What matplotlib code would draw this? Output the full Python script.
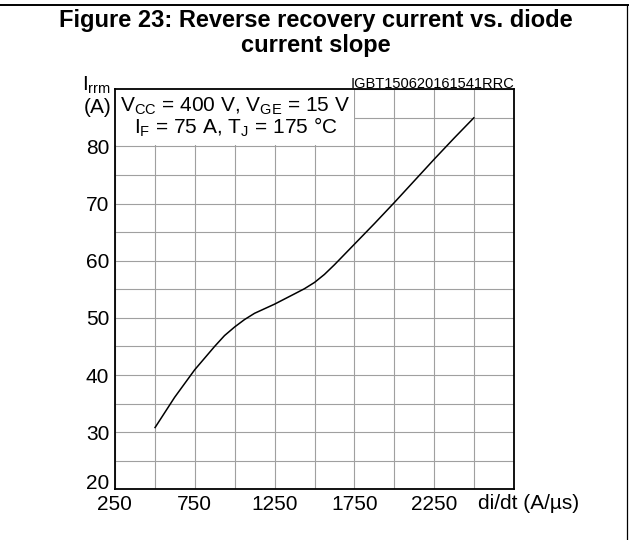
import matplotlib

matplotlib.use("Agg")

import matplotlib.pyplot as plt
from matplotlib.patches import Rectangle
from matplotlib.lines import Line2D

plt.rcParams["font.family"] = ["Liberation Sans", "DejaVu Sans"]
plt.rcParams["mathtext.fontset"] = "custom"
plt.rcParams["mathtext.rm"] = "Liberation Sans"
plt.rcParams["mathtext.it"] = "Liberation Sans"

# curve
didt = [500, 625, 750, 875, 937, 1000, 1062, 1125, 1250, 1375, 1437, 1500, 1562,
        1625, 1750, 1875, 2000, 2125, 2250, 2375, 2500]
irrm = [30.7, 36.1, 40.9, 45.0, 46.9, 48.4, 49.7, 50.8, 52.4, 54.2, 55.1, 56.2, 57.6,
        59.3, 62.9, 66.5, 70.2, 74.0, 77.8, 81.5, 85.1]

x_ticks = [250, 750, 1250, 1750, 2250]
y_ticks = [20, 30, 40, 50, 60, 70, 80]

W, H = 629, 540
fig = plt.figure(figsize=(W / 100, H / 100), dpi=100)
ax = fig.add_axes([114.7 / W, 1 - 489.3 / H, 399.6 / W, 400.0 / H])

ax.plot(didt, irrm, color="black", lw=1.1, zorder=4, solid_capstyle="butt")

ax.set_xlim(250, 2750)
ax.set_ylim(20, 90)
ax.set_xticks(x_ticks)
ax.set_yticks(y_ticks)
ax.set_xticks(range(250, 2751, 250), minor=True)
ax.set_yticks(range(20, 91, 5), minor=True)
ax.grid(which="both", color="#a0a0a0", lw=0.8, zorder=1)
ax.set_axisbelow(True)
ax.tick_params(which="both", length=0, labelsize=15, pad=4)
for lab in ax.get_yticklabels():
    if lab.get_text() == "20":
        lab.set_va("baseline")

for s in ax.spines.values():
    s.set_linewidth(1.3)
    s.set_zorder(5)

# white box behind the conditions
ax.add_patch(Rectangle((253, 80.25), 1493, 9.75, facecolor="white", edgecolor="none", zorder=3))
ax.text(1005, 86.0, r"V$_{\mathrm{CC}}$ = 400 V, V$_{\mathrm{GE}}$ = 15 V",
        ha="center", va="baseline", fontsize=15, zorder=6)
ax.text(1005, 82.25, r"I$_{\mathrm{F}}$ = 75 A, T$_{\mathrm{J}}$ = 175 °C",
        ha="center", va="baseline", fontsize=15, zorder=6)

# axis labels
fig.text(111 / W, 1 - 91 / H, r"I$_{\mathrm{rrm}}$", ha="right", va="baseline", fontsize=15)
fig.text(111 / W, 1 - 113 / H, "(A)", ha="right", va="baseline", fontsize=15)
fig.text(478 / W, 1 - 509 / H, "di/dt (A/µs)", ha="left", va="baseline", fontsize=15)
fig.text(514 / W, 1 - 88 / H, "IGBT150620161541RRC", ha="right", va="baseline", fontsize=10.5)

# title
fig.text(316 / W, 1 - 27 / H, "Figure 23: Reverse recovery current vs. diode",
         ha="center", va="baseline", fontsize=17, fontweight="bold")
fig.text(316 / W, 1 - 52 / H, "current slope",
         ha="center", va="baseline", fontsize=17, fontweight="bold")

# frame lines
fig.add_artist(Line2D([0, 1], [1 - 5 / H, 1 - 5 / H], transform=fig.transFigure, color="black", lw=1.4))
fig.add_artist(Line2D([626.5 / W, 626.5 / W], [0, 1 - 5 / H], transform=fig.transFigure, color="black", lw=0.9))

fig.savefig("out.png", dpi=100)
